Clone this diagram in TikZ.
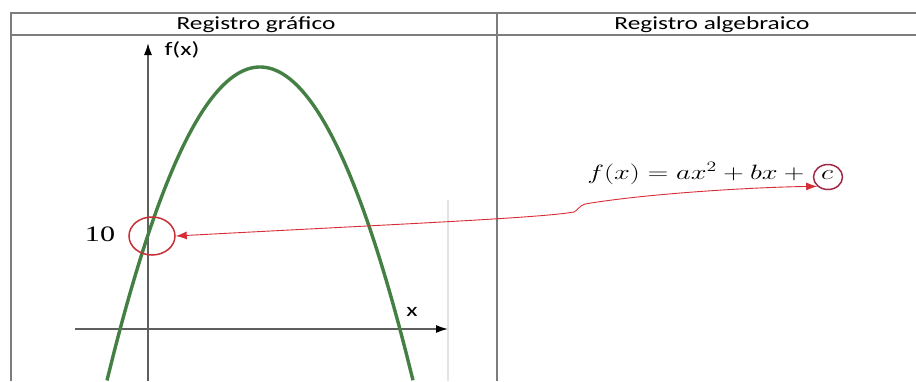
\documentclass[tikz,border=0pt]{standalone}
\usepackage{fontspec}
\setmainfont{Carlito}
\newfontfamily\numfont{Liberation Serif}
\usetikzlibrary{shapes.geometric,arrows.meta}
\definecolor{gridgray}{RGB}{125,125,125}
\definecolor{axisgray}{RGB}{95,95,95}
\definecolor{curvegreen}{RGB}{68,128,68}
\definecolor{linkred}{RGB}{215,45,55}
\definecolor{ringred}{RGB}{200,50,55}
\definecolor{ringdark}{RGB}{160,40,70}
\definecolor{faintgray}{RGB}{228,228,228}
\tikzset{
  tableline/.style={draw=gridgray, line width=1.6pt},
  axisline/.style={draw=axisgray, line width=1.5pt, -{Latex[length=12pt,width=8pt,black]}},
  stretched/.style={xscale=1.37, inner sep=0pt},
  headtext/.style={stretched, font=\fontsize{18.5}{20}\selectfont, text=black},
  axtext/.style={stretched, font=\fontsize{19}{20}\selectfont, text=black},
  mathtext/.style={stretched, font=\fontsize{20.74}{24}\selectfont},
  ring/.style={ellipse, draw=ringred, line width=1.5pt, inner sep=0pt},
  link/.style={draw=linkred, line width=0.9pt, {Latex[length=11pt,width=8pt]}-{Latex[length=11pt,width=8pt]}},
}
\begin{document}
\begin{tikzpicture}[x=1pt,y=-1pt]
\useasboundingbox (0,0) rectangle (916,381);
\fill[white] (0,0) rectangle (916,381);
% table
\coordinate (tl) at (11,13);
\coordinate (tr) at (916,13);
\coordinate (hl) at (11,35);
\coordinate (hr) at (916,35);
\coordinate (bl) at (11,381);
\coordinate (mt) at (497,13);
\coordinate (mb) at (497,381);
\draw[tableline] (bl) -- (tl) -- (tr);
\draw[tableline] (hl) -- (hr);
\draw[tableline] (mt) -- (mb);
\node[headtext] (h1) at (256,24.5) {Registro gráfico};
\node[headtext] (h2) at (712,24.5) {Registro algebraico};
% faint line
\coordinate (f1) at (448,200);
\coordinate (f2) at (448,381);
\draw[faintgray, line width=1.2pt] (f1) -- (f2);
% axes
\coordinate (yb) at (148,381);
\coordinate (yt) at (148,43);
\coordinate (xl) at (75,329);
\coordinate (xr) at (448,329);
\draw[axisline] (yb) -- (yt);
\draw[axisline] (xl) -- (xr);
\node[axtext] (fx) at (182,50) {f(x)};
\node[axtext] (xlab) at (412,312) {x};
% parabola
\draw[curvegreen, line width=3.4pt] plot[domain=-1.53:1.53, samples=120, smooth] ({260+100*\x}, {67+133.9*\x*\x});
% labels
\node[stretched, font=\numfont\fontsize{22}{24}\selectfont] (ten) at (100,234) {10};
\node[ring, minimum width=46pt, minimum height=38pt] (cL) at (152,236) {};
\node[mathtext, anchor=base west] (eq) at (587,179) {$f(x) = ax^2 + bx + {}$};
\node[mathtext, anchor=base] (cc) at (827,179) {$c$};
\node[ring, draw=ringdark, minimum width=29pt, minimum height=25pt] (cR) at (828,177) {};
% link
\draw[link] (cL.east) .. controls (400,224) and (540,218) .. (574,212)
  .. controls (578,210) and (579,206) .. (585,204)
  .. controls (650,193) and (760,187) .. (cR.south west);
\end{tikzpicture}
\end{document}
